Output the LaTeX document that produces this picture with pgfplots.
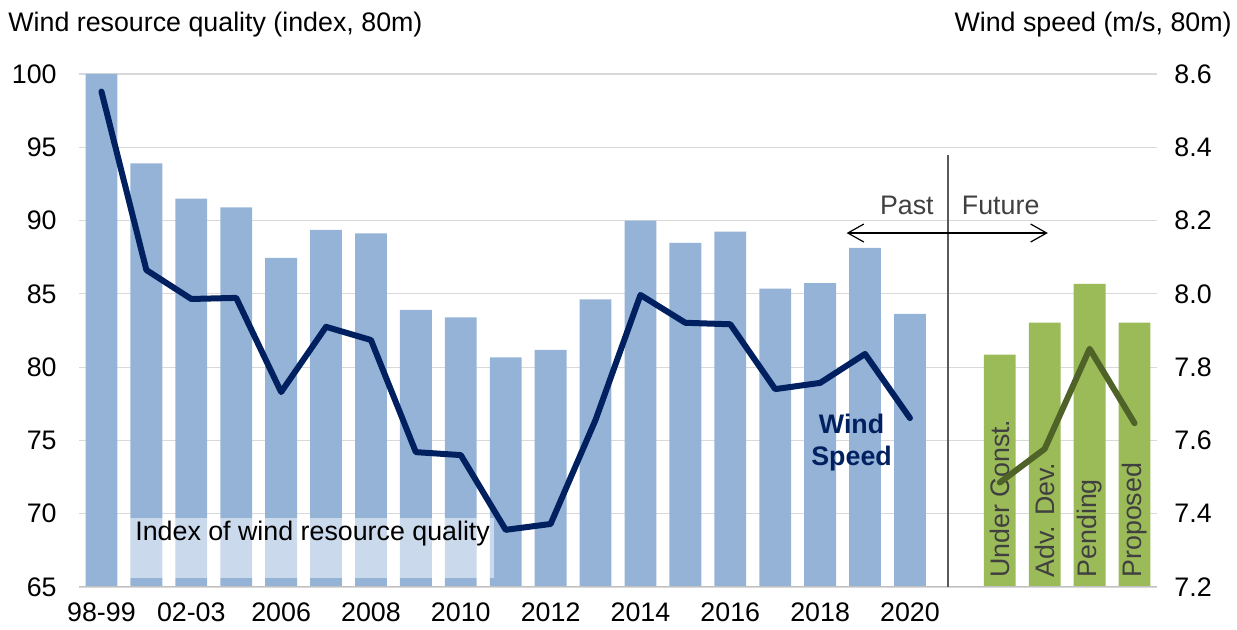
\documentclass[border=0pt]{standalone}
\usepackage{fontspec}
\setmainfont{Liberation Sans}
\usepackage{pgfplots}
\usepackage{pgfplotstable}
\pgfplotsset{compat=1.18}
\usetikzlibrary{arrows.meta}
\definecolor{barblue}{HTML}{95B3D7}
\definecolor{navy}{HTML}{002060}
\definecolor{bargreen}{HTML}{9BBB59}
\definecolor{darkgreen}{HTML}{4F6228}
\definecolor{txtgray}{HTML}{404040}
\definecolor{gridgray}{HTML}{D9D9D9}
\definecolor{axgray}{HTML}{BFBFBF}
\definecolor{sepgray}{HTML}{595959}

\pgfplotstableread{
x y
0 100
1 93.9
2 91.5
3 90.9
4 87.45
5 89.36
6 89.13
7 83.9
8 83.4
9 80.67
10 81.17
11 84.63
12 90.0
13 88.47
14 89.24
15 85.36
16 85.74
17 88.13
18 83.63
}\bluebars

\pgfplotstableread{
x y
20 80.85
21 83.04
22 85.68
23 83.04
}\greenbars

\pgfplotstableread{
x y
0 8.552
1 8.065
2 7.986
3 7.989
4 7.732
5 7.910
6 7.874
7 7.568
8 7.560
9 7.356
10 7.372
11 7.656
12 7.997
13 7.921
14 7.917
15 7.740
16 7.757
17 7.836
18 7.661
}\speedpast

\pgfplotstableread{
x y
20 7.485
21 7.577
22 7.850
23 7.647
}\speedfuture

\begin{document}
\begin{tikzpicture}[font=\fontsize{13.4pt}{16pt}\selectfont]
\pgfplotsset{
  base/.style={scale only axis, width=539pt, height=256.5pt,
    xmin=-0.5, xmax=23.5, axis line style={draw=none},
    major tick length=0pt,
    /pgf/number format/assume math mode=true}
}
\begin{axis}[base,
  ymin=65, ymax=100, ytick={65,70,75,80,85,90,95,100},
  ymajorgrids, grid style={gridgray, line width=0.6pt},
  xtick={0,2,4,6,8,10,12,14,16,18},
  xticklabels={98-99,02-03,2006,2008,2010,2012,2014,2016,2018,2020},
  yticklabel style={anchor=east, inner sep=0pt, xshift=-11pt},
  xticklabel style={anchor=north, inner sep=0pt, yshift=-7.8pt}]
\addplot[ybar, bar width=0.71, bar shift=0pt, fill=barblue, draw=none] table[x=x,y=y]{\bluebars};
\addplot[ybar, bar width=0.71, bar shift=0pt, fill=bargreen, draw=none] table[x=x,y=y]{\greenbars};
\draw[axgray, line width=0.7pt] (axis cs:-0.5,65) -- (axis cs:23.5,65);
\fill[white, opacity=0.5] (axis cs:0.646,65.62) rectangle (axis cs:8.73,69.71);
\node[anchor=west, inner sep=0pt] at (axis cs:0.746,68.62) {Index of wind resource quality};
\draw[sepgray, line width=0.7pt] (axis cs:18.85,94.47) -- (axis cs:18.85,65);
\draw[{Straight Barb[length=8pt,width=9pt]}-{Straight Barb[length=8pt,width=9pt]}, line width=0.6pt] (axis cs:16.59,89.15) -- (axis cs:21.07,89.15);
\node[txtgray] at (axis cs:17.93,91.0) {Past};
\node[txtgray] at (axis cs:20.02,91.0) {Future};
\node[navy, align=center, font=\fontsize{13.4pt}{16pt}\selectfont\bfseries] at (axis cs:16.7,74.85) {Wind\\Speed};
\node[rotate=90, anchor=west, inner sep=0pt, txtgray] at (axis cs:20,65.62) {Under Const.};
\node[rotate=90, anchor=west, inner sep=0pt, txtgray] at (axis cs:21,65.62) {Adv. Dev.};
\node[rotate=90, anchor=west, inner sep=0pt, txtgray] at (axis cs:22,65.62) {Pending};
\node[rotate=90, anchor=west, inner sep=0pt, txtgray] at (axis cs:23,65.62) {Proposed};
\end{axis}
\begin{axis}[base,
  ymin=7.2, ymax=8.6, ytick={7.2,7.4,7.6,7.8,8.0,8.2,8.4,8.6},
  xtick=\empty, yticklabel pos=right,
  yticklabel style={/pgf/number format/.cd, fixed, fixed zerofill, precision=1, /tikz/.cd, anchor=west, inner sep=0pt, xshift=8.5pt}]
\addplot[navy, line width=3pt, line join=round, line cap=round, mark=none] table[x=x,y=y]{\speedpast};
\addplot[darkgreen, line width=3pt, line join=round, line cap=round, mark=none] table[x=x,y=y]{\speedfuture};
\end{axis}
\node[anchor=west, inner sep=0pt] at (-35.5pt,281pt) {Wind resource quality (index, 80m)};
\node[anchor=east, inner sep=0pt] at (576.5pt,281pt) {Wind speed (m/s, 80m)};
\pgfresetboundingbox
\path[use as bounding box] (-39.5pt,-21.5pt) rectangle (579pt,293.5pt);
\end{tikzpicture}
\end{document}
